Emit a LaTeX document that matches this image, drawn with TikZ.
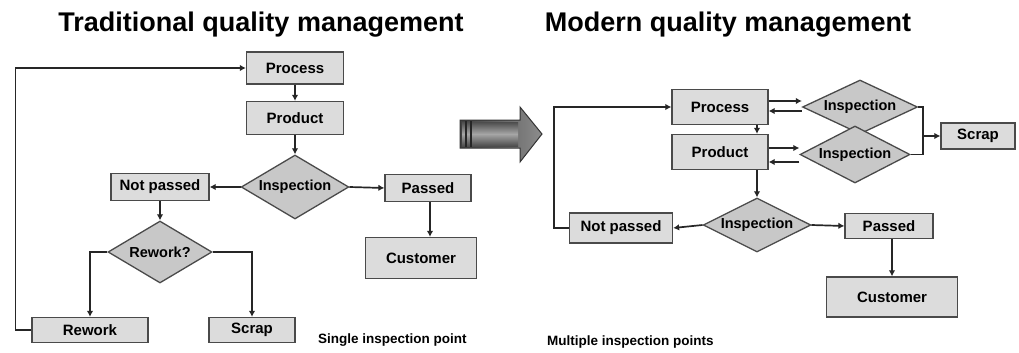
\documentclass[tikz,border=0pt]{standalone}
\usepackage{fontspec}
\setmainfont{Liberation Sans}
\usetikzlibrary{arrows.meta,shapes.geometric,calc}
\definecolor{boxfill}{HTML}{DCDCDC}
\definecolor{decfill}{HTML}{C8C8C8}
\definecolor{edge}{HTML}{4A4A4A}
\begin{document}
\begin{tikzpicture}[x=1pt,y=-1pt,
  box/.style={draw=edge, fill=boxfill, line width=1.3pt, inner sep=0pt,
    font=\bfseries\fontsize{15}{15}\selectfont},
  decision/.style={diamond, aspect=2.6, draw=edge, fill=decfill, line width=1.3pt, inner sep=0pt,
    font=\bfseries\fontsize{14.5}{15}\selectfont},
  link/.style={line width=1.7pt, draw=black!85},
  flow/.style={link, -{Latex[length=6pt,width=6.5pt]}},
  heading/.style={font=\bfseries\fontsize{27}{28}\selectfont, anchor=base, inner sep=0pt},
  caption/.style={font=\bfseries\fontsize{13.5}{14}\selectfont, anchor=base west, inner sep=0pt}]
\useasboundingbox (0,0) rectangle (1019,353);

% headings
\node[heading] (t1) at (261,32) {Traditional quality management};
\node[heading] (t2) at (728,32) {Modern quality management};

% ---------- traditional flow ----------
\node[box, minimum width=97, minimum height=32] (proc1) at (295,68) {Process};
\node[box, minimum width=97, minimum height=33] (prod1) at (295,118) {Product};
\node[decision, minimum width=104, minimum height=64] (insp1) at (295,187) {Inspection};
\node[box, minimum width=98, minimum height=27] (np1) at (160,187) {Not passed};
\node[box, minimum width=86, minimum height=27] (pass1) at (428,188) {Passed};
\node[box, minimum width=111, minimum height=41] (cust1) at (421,258) {Customer};
\node[decision, minimum width=104, minimum height=62] (rq) at (160,252) {Rework?};
\node[box, minimum width=116, minimum height=25] (rework) at (90,330) {Rework};
\node[box, minimum width=86, minimum height=25] (scrap1) at (252,330) {Scrap};

\draw[flow] (proc1) -- (prod1);
\draw[flow] (prod1) -- (insp1);
\draw[flow] (insp1.west) -- (np1.east);
\draw[flow] (insp1.east) -- (pass1.west);
\draw[flow] ([xshift=2]pass1.south) -- ([xshift=2]pass1.south |- cust1.north);
\draw[flow] (np1.south) -- (rq.north);
\draw[flow] (rq.west) -| (rework.north);
\draw[flow] (rq.east) -| (scrap1.north);
\draw[flow] (rework.west) -- ++(-16,0) |- (proc1.west);

\node[caption] (c1) at (318,343) {Single inspection point};

% ---------- block arrow between the two schemes ----------
\shade[left color=black!75, right color=black!45, draw=black!80, line width=1pt]
  (460,120) -- (520,120) -- (520,107) -- (542,134) -- (520,162) -- (520,148) -- (460,148) -- cycle;
\shade[top color=black!70, bottom color=black!70, middle color=black!35]
  (462,122) rectangle (518,146);
\draw[black!85, line width=1.2pt] (466,121) -- (466,147) (471,121) -- (471,147);

% ---------- modern flow ----------
\node[box, minimum width=96, minimum height=35] (proc2) at (720,107) {Process};
\node[box, minimum width=96, minimum height=35] (prod2) at (720,152) {Product};
\node[decision, minimum width=115, minimum height=54] (insp2a) at (860,107) {Inspection};
\node[decision, minimum width=110, minimum height=57] (insp2b) at (855,154.5) {Inspection};
\node[box, minimum width=74, minimum height=26] (scrap2) at (978,136) {Scrap};
\node[decision, minimum width=105, minimum height=54] (insp2c) at (757,225) {Inspection};
\node[box, minimum width=103, minimum height=30] (np2) at (621,228) {Not passed};
\node[box, minimum width=88, minimum height=25] (pass2) at (889,226) {Passed};
\node[box, minimum width=131, minimum height=40] (cust2) at (892,297) {Customer};

% process and product loops with their inspections
\draw[flow] ([yshift=6]proc2.east) -- ([yshift=6]proc2.east -| insp2a.west);
\draw[flow] ([yshift=-4]proc2.east -| insp2a.west) -- ([yshift=-4]proc2.east);
\draw[flow] ([yshift=4]prod2.east) -- ([yshift=4]prod2.east -| insp2b.west);
\draw[flow] ([yshift=-10]prod2.east -| insp2b.west) -- ([yshift=-10]prod2.east);

\draw[flow] (proc2.south -| insp2c.north) -- (prod2.north -| insp2c.north);
\draw[flow] (prod2.south -| insp2c.north) -- (insp2c.north);

% rejects from both inspections go to scrap
\draw[link] (insp2a.east) -- ++(5,0) coordinate (jt) |- (insp2b.east);
\draw[flow] (jt |- scrap2.west) -- (scrap2.west);

\draw[flow] (insp2c.west) -- (np2.east);
\draw[flow] (insp2c.east) -- (pass2.west);
\draw[flow] ([xshift=3]pass2.south) -- ([xshift=3]pass2.south |- cust2.north);
\draw[flow] (np2.west) -- ++(-15,0) |- (proc2.west);

\node[caption] (c2) at (547,345) {Multiple inspection points};
\end{tikzpicture}
\end{document}
